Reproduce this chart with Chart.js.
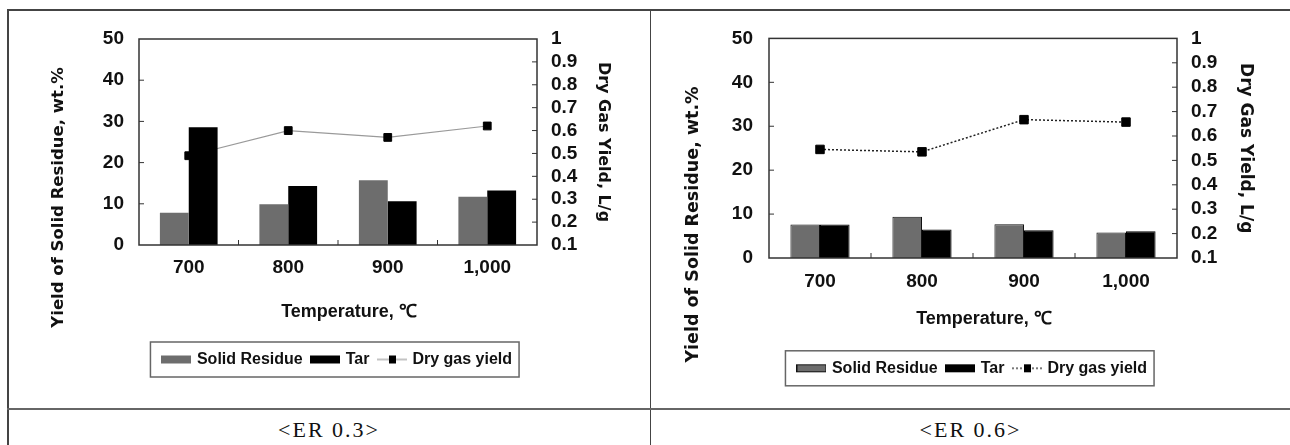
<!DOCTYPE html>
<html lang="en">
<head>
<meta charset="UTF-8">
<title>Solid residue, tar and dry gas yield vs temperature</title>
<script src="https://cdn.jsdelivr.net/npm/chart.js"></script>
<style>
  body { margin: 0; background: #fff; }
  #page { position: relative; width: 1290px; height: 445px; overflow: hidden; }
  .rule { position: absolute; background: #444; }
  .cell { position: absolute; }
  .caption {
    position: absolute; top: 419px; line-height: 22px;
    font-family: 'Liberation Serif', serif; font-size: 22px; letter-spacing: 2px;
    text-align: center; color: #111;
  }
</style>
</head>
<body>
<div id="page">
  <div class="rule" style="left:7px; top:9px; width:1283px; height:1.5px;"></div>
  <div class="rule" style="left:7px; top:9px; width:1.5px; height:436px;"></div>
  <div class="rule" style="left:649.5px; top:9px; width:1.5px; height:436px;"></div>
  <div class="rule" style="left:7px; top:408px; width:1283px; height:2px; background:#666;"></div>

  <div class="cell" style="left:9px; top:11px;"><canvas id="chartER03" width="640" height="396"></canvas></div>
  <div class="cell" style="left:651px; top:11px;"><canvas id="chartER06" width="639" height="396"></canvas></div>

  <div class="caption" style="left:9px; width:640px;">&lt;ER 0.3&gt;</div>
  <div class="caption" style="left:651px; width:639px;">&lt;ER 0.6&gt;</div>
</div>

<script>
// values
const temperatures = ['700', '800', '900', '1,000'];

const solidResidueER03 = [7.8, 9.9, 15.7, 11.7];
const tarER03 = [28.6, 14.3, 10.6, 13.2];
const dryGasER03 = [0.49, 0.60, 0.57, 0.62];

const solidResidueER06 = [7.6, 9.4, 7.7, 5.8];
const tarER06 = [7.6, 6.5, 6.3, 6.1];
const dryGasER06 = [0.545, 0.535, 0.667, 0.657];

const sans = "'Liberation Sans', Arial, sans-serif";
const ink = '#111';

// little canvases used as legend symbols
function symbolCanvas(paint) {
    const c = document.createElement('canvas');
    c.width = 30; c.height = 10;
    paint(c.getContext('2d'));
    return c;
}
const boxSymbol = (fill, edge) => symbolCanvas(ctx => {
    ctx.fillStyle = fill;
    ctx.fillRect(0, 1, 30, 8);
    if (edge) { ctx.strokeStyle = edge; ctx.lineWidth = 1; ctx.strokeRect(0.5, 1.5, 29, 7); }
});
const lineSymbol = (color, dash) => symbolCanvas(ctx => {
    ctx.strokeStyle = color; ctx.lineWidth = 1.2; ctx.setLineDash(dash);
    ctx.beginPath(); ctx.moveTo(0, 5); ctx.lineTo(30, 5); ctx.stroke();
    ctx.fillStyle = '#000'; ctx.fillRect(12, 1, 7, 8);
});

// plot frame plus the short inward tick marks
const frameTicks = {
    id: 'frameTicks',
    afterDatasetsDraw(chart) {
        const {ctx, chartArea: a, scales} = chart;
        ctx.save();
        ctx.strokeStyle = '#333';
        ctx.lineWidth = 1.5;
        ctx.strokeRect(a.left, a.top, a.right - a.left, a.bottom - a.top);
        ctx.lineWidth = 1;
        ctx.beginPath();
        scales.y.ticks.slice(1, -1).forEach(t => {
            const py = scales.y.getPixelForValue(t.value);
            ctx.moveTo(a.left, py); ctx.lineTo(a.left + 5, py);
        });
        scales.y1.ticks.slice(1, -1).forEach(t => {
            const py = scales.y1.getPixelForValue(t.value);
            ctx.moveTo(a.right, py); ctx.lineTo(a.right - 5, py);
        });
        for (let i = 0; i < chart.data.labels.length - 1; i++) {
            const px = scales.x.getPixelForValue(i + 0.5);
            ctx.moveTo(px, a.bottom); ctx.lineTo(px, a.bottom - 5);
        }
        ctx.stroke();
        ctx.restore();
    }
};

// axis titles that sit off-centre in the original
const axisTitles = {
    id: 'axisTitles',
    afterDraw(chart, args, opts) {
        const ctx = chart.ctx;
        opts.items.forEach(t => {
            ctx.save();
            ctx.translate(t.x, t.y);
            ctx.rotate(t.rotate || 0);
            ctx.font = t.font;
            ctx.fillStyle = ink;
            ctx.textAlign = 'center';
            ctx.textBaseline = 'middle';
            ctx.fillText(t.text, 0, 0);
            ctx.restore();
        });
    }
};

// border round the legend
const legendFrame = {
    id: 'legendFrame',
    afterDraw(chart) {
        const lg = chart.legend;
        const boxes = lg.legendHitBoxes;
        if (!boxes || !boxes.length) return;
        const left = Math.min(...boxes.map(b => b.left)) - 13.5;
        const right = Math.max(...boxes.map(b => b.left + b.width)) + 7;
        const ctx = chart.ctx;
        ctx.save();
        ctx.strokeStyle = '#666';
        ctx.lineWidth = 1.5;
        ctx.strokeRect(left, lg.top + 0.5, right - left, lg.height - 1);
        ctx.restore();
    }
};

function makeChart(id, s) {
    const symbols = [s.solidSymbol, s.tarSymbol, s.gasSymbol];
    const tickFont = {family: sans, size: 19, weight: 'bold'};

    return new Chart(document.getElementById(id), {
        data: {
            labels: temperatures,
            datasets: [
                {
                    type: 'bar', label: 'Solid Residue', data: s.solid, yAxisID: 'y',
                    backgroundColor: '#6d6d6d', borderColor: '#111', borderWidth: s.barBorder,
                    categoryPercentage: 0.58, barPercentage: 1, order: s.barOrder
                },
                {
                    type: 'bar', label: 'Tar', data: s.tar, yAxisID: 'y',
                    backgroundColor: '#000', borderColor: '#000', borderWidth: s.barBorder,
                    categoryPercentage: 0.58, barPercentage: 1, order: s.barOrder
                },
                {
                    type: 'line', label: 'Dry gas yield', data: s.gas, yAxisID: 'y1',
                    borderColor: s.lineColor, borderWidth: s.lineWidth, borderDash: s.dash,
                    pointStyle: 'rect', pointRadius: s.pointRadius,
                    pointBackgroundColor: '#000', pointBorderColor: '#000', pointBorderWidth: 1,
                    order: s.lineOrder
                }
            ]
        },
        options: {
            responsive: false,
            animation: false,
            layout: { padding: { left: 0, right: 0, top: s.padTop, bottom: s.padBottom } },
            scales: {
                x: {
                    type: 'category', offset: true,
                    grid: { display: false, drawTicks: false },
                    border: { display: false },
                    ticks: { color: ink, font: tickFont, padding: s.xTickPad, maxRotation: 0, autoSkip: false },
                    afterFit: sc => { sc.height = s.xHeight; }
                },
                y: {
                    position: 'left', min: 0, max: 50,
                    grid: { display: false, drawTicks: false },
                    border: { display: false },
                    ticks: { stepSize: 10, color: ink, font: tickFont, padding: s.yTickPad, autoSkip: false },
                    afterFit: sc => { sc.width = s.yWidth; }
                },
                y1: {
                    position: 'right', min: 0.1, max: 1,
                    grid: { display: false, drawTicks: false },
                    border: { display: false },
                    ticks: {
                        stepSize: 0.1, color: ink, font: tickFont, padding: 14, autoSkip: false,
                        callback: v => String(+v.toFixed(1))
                    },
                    title: {
                        display: true, text: 'Dry Gas Yield, L/g', color: ink,
                        font: {family: "'DejaVu Sans', sans-serif", size: s.gasTitleSize, weight: 'bold'},
                        padding: { top: s.gasTitlePad, bottom: 0 }
                    },
                    afterFit: sc => { sc.width = s.y1Width; }
                }
            },
            plugins: {
                tooltip: { enabled: false },
                legend: {
                    position: 'bottom', fullSize: false,
                    labels: {
                        usePointStyle: true, pointStyleWidth: 25, boxHeight: 8, padding: 10,
                        color: ink, font: {family: sans, size: 16, weight: 'bold'},
                        sort: (a, b) => a.datasetIndex - b.datasetIndex,
                        generateLabels: chart => Chart.defaults.plugins.legend.labels.generateLabels(chart)
                            .map(item => Object.assign(item, { pointStyle: symbols[item.datasetIndex] }))
                    }
                },
                axisTitles: {
                    items: [
                        { text: 'Yield of Solid Residue, wt.%', x: s.sideX, y: s.sideY, rotate: -Math.PI / 2,
                          font: `bold ${s.sideSize}px 'DejaVu Sans', sans-serif` },
                        { text: 'Temperature, ℃', x: s.tempX, y: s.tempY, font: `bold 18px ${sans}` }
                    ]
                }
            }
        },
        plugins: [frameTicks, axisTitles, legendFrame]
    });
}

makeChart('chartER03', {
    solid: solidResidueER03, tar: tarER03, gas: dryGasER03,
    barBorder: 0, barOrder: 0, lineOrder: 1,
    lineColor: '#9a9a9a', lineWidth: 1.2, dash: [], pointRadius: 5.5,
    solidSymbol: boxSymbol('#6d6d6d'), tarSymbol: boxSymbol('#000'), gasSymbol: lineSymbol('#9a9a9a', []),
    padTop: 28, padBottom: 29.5, xHeight: 96.5, xTickPad: 11.2,
    yWidth: 130, y1Width: 112, yTickPad: 15,
    gasTitleSize: 16, gasTitlePad: 36.4,
    sideX: 50, sideY: 186.5, sideSize: 16.5,
    tempX: 340, tempY: 301
});

makeChart('chartER06', {
    solid: solidResidueER06, tar: tarER06, gas: dryGasER06,
    barBorder: 1, barOrder: 1, lineOrder: 0,
    lineColor: '#222', lineWidth: 1.5, dash: [2, 2], pointRadius: 6,
    solidSymbol: boxSymbol('#6d6d6d', '#111'), tarSymbol: boxSymbol('#000'), gasSymbol: lineSymbol('#222', [2, 2]),
    padTop: 24, padBottom: 20.7, xHeight: 92.3, xTickPad: 12.7,
    yWidth: 118, y1Width: 113, yTickPad: 16,
    gasTitleSize: 17, gasTitlePad: 34.8,
    sideX: 42, sideY: 213.5, sideSize: 17.5,
    tempX: 333, tempY: 308
});
</script>
</body>
</html>
